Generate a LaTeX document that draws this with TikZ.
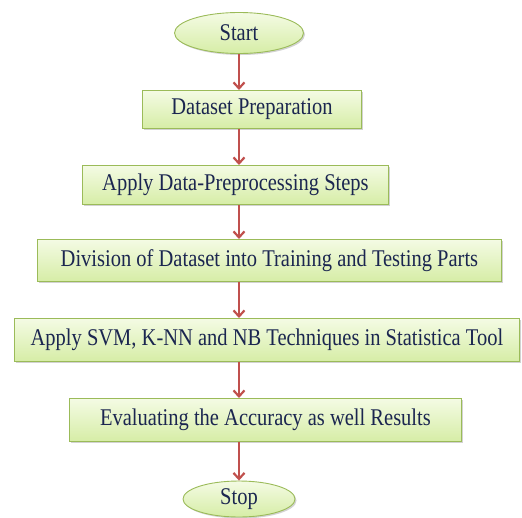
\documentclass[tikz,border=0pt]{standalone}
\usepackage{fontspec}
\usepackage{graphicx}
\setmainfont{Liberation Serif}
\usetikzlibrary{arrows.meta,shadows,shapes.geometric}
\definecolor{boxline}{HTML}{9BBB59}
\definecolor{boxtop}{HTML}{F4FBE4}
\definecolor{boxbot}{HTML}{D6EDA6}
\definecolor{ink}{HTML}{1B2650}
\definecolor{flow}{HTML}{C0504D}
% labels are set a little taller than wide
\newcommand{\tall}[1]{\scalebox{1}[1.17]{#1}}
\tikzset{
  x=1pt, y=-1pt,
  stepbox/.style={draw=boxline, line width=0.9pt, top color=boxtop, bottom color=boxbot,
    drop shadow={shadow xshift=1.5pt, shadow yshift=-1.5pt, fill=black!35, opacity=0.5},
    text=ink, font=\fontsize{20.5}{22}\selectfont, anchor=north west, inner sep=0pt},
  term/.style={ellipse, draw=boxline, line width=0.9pt, top color=boxtop, bottom color=boxbot,
    drop shadow={shadow xshift=1.5pt, shadow yshift=-1.5pt, fill=black!35, opacity=0.5},
    text=ink, font=\fontsize{20.5}{22}\selectfont, inner sep=0pt},
  flowarrow/.style={draw=flow, line width=2.2pt, -{Straight Barb[length=6pt,width=11pt,line width=2.2pt]}}
}
% box from (x1,y1) to (x2,y2) in picture units
\newcommand{\stepnode}[6]{%
  \node[stepbox, minimum width=#4-#2, minimum height=#5-#3] (#1) at (#2,#3) {\tall{#6}};}
\begin{document}
\begin{tikzpicture}
\useasboundingbox (0,0) rectangle (522,517);
\node[term, minimum width=129pt, minimum height=41pt] (start) at (239,33) {\tall{Start}};
\stepnode{prep}{142}{90}{361}{128}{Dataset Preparation}
\stepnode{pre}{82}{165}{388}{204}{Apply Data-Preprocessing Steps}
\stepnode{div}{37}{239}{501}{281}{Division of Dataset into Training and Testing Parts}
\stepnode{svm}{14}{318}{519}{361}{Apply SVM, K-NN and NB Techniques in Statistica Tool}
\stepnode{eval}{69}{398}{461}{441}{Evaluating the Accuracy as well Results}
\node[term, minimum width=112pt, minimum height=36pt] (stop) at (239,499) {\tall{Stop}};
\draw[flowarrow] (start.south) -- (start.south |- prep.north);
\draw[flowarrow] (prep.south -| start.south) -- (start.south |- pre.north);
\draw[flowarrow] (pre.south -| start.south) -- (start.south |- div.north);
\draw[flowarrow] (div.south -| start.south) -- (start.south |- svm.north);
\draw[flowarrow] (svm.south -| start.south) -- (start.south |- eval.north);
\draw[flowarrow] (eval.south -| start.south) -- (stop.north);
\end{tikzpicture}
\end{document}
